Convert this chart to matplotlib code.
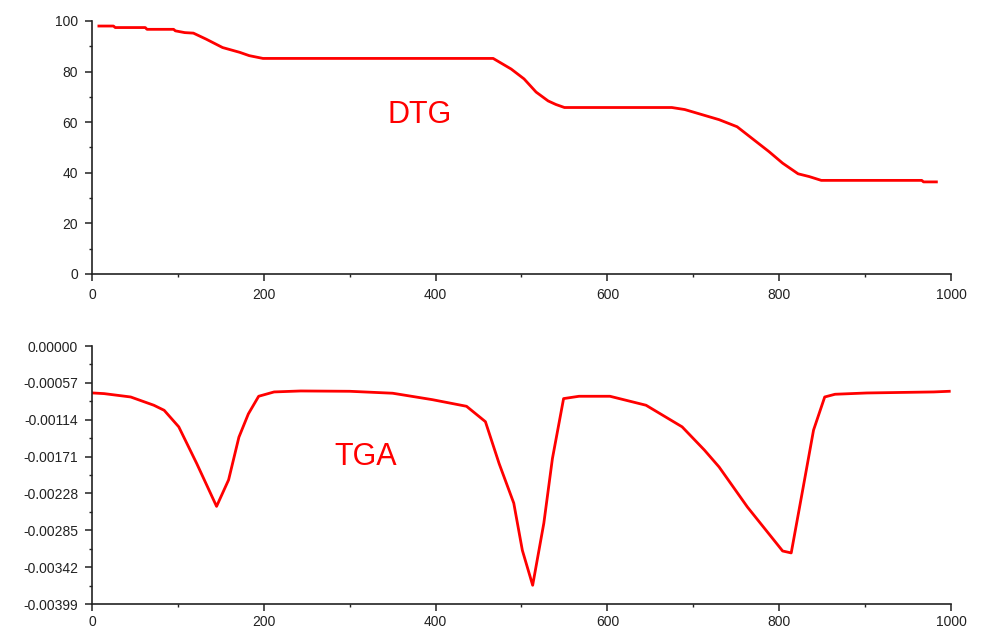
import matplotlib
matplotlib.use("Agg")
from matplotlib import pyplot
import matplotlib.ticker as ticker

# mass curve (top panel)
temp_mass = [8, 25, 27, 62, 64, 95, 97, 108, 118, 133, 152, 172, 183, 199,
             467, 488, 503, 517, 531, 540, 550, 675, 690, 710, 730, 751,
             771, 788, 804, 822, 835, 849, 966, 968, 983]
mass = [98.0, 98.0, 97.4, 97.4, 96.7, 96.7, 96.1, 95.4, 95.2, 92.8, 89.5,
        87.6, 86.3, 85.2, 85.2, 81.0, 77.1, 71.9, 68.4, 67.0, 65.8, 65.8,
        65.0, 63.0, 61.0, 58.2, 52.9, 48.4, 43.8, 39.6, 38.5, 37.0, 37.0,
        36.4, 36.4]

# derivative curve (bottom panel)
temp_deriv = [1, 14, 45, 72, 84, 101, 122, 145, 159, 171, 182, 194, 212, 243,
              300, 350, 396, 436, 458, 474, 491, 501, 513, 526, 536, 549, 567,
              603, 645, 687, 713, 730, 763, 804, 814, 828, 840, 853, 865, 902,
              980, 998]
deriv = [-0.000726, -0.000736, -0.000788, -0.000916, -0.000994, -0.00125,
         -0.00182, -0.00248, -0.00207, -0.00141, -0.00105, -0.000777,
         -0.000710, -0.000695, -0.000700, -0.000730, -0.000829, -0.000932,
         -0.00117, -0.00182, -0.00243, -0.00316, -0.00370, -0.00274,
         -0.00174, -0.000813, -0.000777, -0.000777, -0.000916, -0.00125,
         -0.00161, -0.00187, -0.00249, -0.00317, -0.00320, -0.00218,
         -0.00130, -0.000788, -0.000746, -0.000726, -0.000710, -0.000700]

x_ticks = [0, 200, 400, 600, 800, 1000]
mass_ticks = [0, 20, 40, 60, 80, 100]
deriv_ticks = [-0.00057 * i for i in range(8)]


def fmt_deriv(v, pos):
    s = f"{v:.5f}"
    return "0.00000" if s == "-0.00000" else s


pyplot.rcParams['font.family'] = ['Liberation Sans', 'DejaVu Sans']
pyplot.rcParams['axes.unicode_minus'] = False

fig = pyplot.figure(figsize=(9.81, 6.28), dpi=100, facecolor='w')
ax1 = fig.add_axes([0.0938, 0.5637, 0.8756, 0.4029])
ax2 = fig.add_axes([0.0938, 0.0382, 0.8756, 0.4108])

for ax in (ax1, ax2):
    ax.spines['top'].set_visible(False)
    ax.spines['right'].set_visible(False)
    for s in ('left', 'bottom'):
        ax.spines[s].set_color('#222222')
        ax.spines[s].set_linewidth(1.2)
    ax.set_xlim(0, 1000)
    ax.set_xticks(x_ticks)
    ax.xaxis.set_minor_locator(ticker.AutoMinorLocator(2))
    ax.yaxis.set_minor_locator(ticker.AutoMinorLocator(2))
    ax.tick_params(which='major', direction='out', length=5, width=1.1,
                   color='#222222', labelsize=10, labelcolor='#222222', pad=5)
    ax.tick_params(which='minor', direction='out', length=2.5, width=1.0,
                   color='#222222')

ax1.plot(temp_mass, mass, color='#ff0000', linewidth=2.0)
ax1.set_ylim(0, 100)
ax1.set_yticks(mass_ticks)
ax1.text(381, 63, "DTG", color='#ff0000', fontsize=22, ha='center', va='center')

ax2.plot(temp_deriv, deriv, color='#ff0000', linewidth=2.0)
ax2.set_ylim(-0.00399, 0)
ax2.set_yticks(deriv_ticks)
ax2.yaxis.set_major_formatter(ticker.FuncFormatter(fmt_deriv))
ax2.tick_params(axis='x', pad=3)
ax2.text(319, -0.00172, "TGA", color='#ff0000', fontsize=22, ha='center', va='center')

pyplot.savefig("out.png", dpi=100)
